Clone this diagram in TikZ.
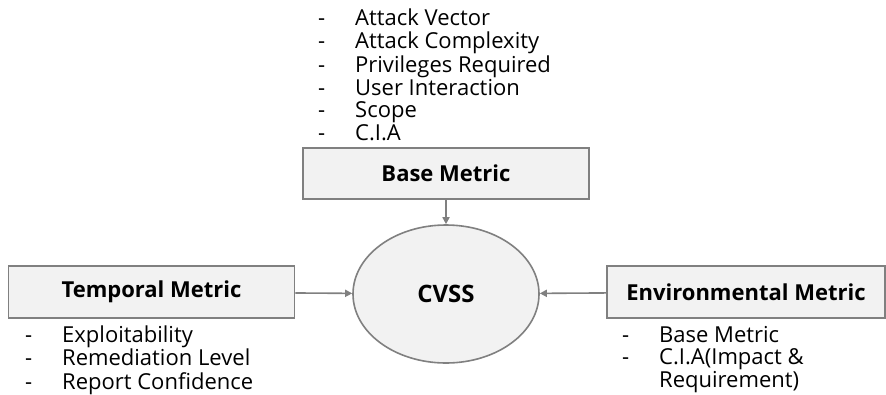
\documentclass[tikz,border=0pt]{standalone}
\usepackage{fontspec}
\setmainfont{Open Sans}
\usetikzlibrary{arrows.meta,shapes.geometric}

\definecolor{boxfill}{HTML}{F2F2F2}
\definecolor{edgegray}{HTML}{808080}

\tikzset{
  metricbox/.style={draw=edgegray, fill=boxfill, line width=1.6pt, inner sep=0pt,
    font=\fontsize{22}{26}\selectfont\bfseries},
  cvssnode/.style={ellipse, draw=edgegray, fill=boxfill, line width=1.6pt, inner sep=0pt,
    minimum width=186pt, minimum height=138pt, font=\fontsize{24}{28}\selectfont\bfseries},
  feed/.style={draw=edgegray, line width=1.6pt, -{Triangle[length=7pt,width=7pt]}},
  itemlist/.style={anchor=base west, inner sep=0pt, align=left}
}

\newcommand{\itemrows}[1]{\fontsize{22}{22.7}\selectfont
  \begin{tabular}[t]{@{}l@{}}#1\end{tabular}}
\newcommand{\dashitem}[1]{\makebox[37pt][l]{-}#1}

\begin{document}
\begin{tikzpicture}[x=1pt,y=-1pt]
\useasboundingbox (0,0) rectangle (886,394);
% boxes and the centre
\node[metricbox, minimum width=286pt, minimum height=51pt] (base) at (446,173.5) {Base Metric};
\node[cvssnode] (cvss) at (446,294) {CVSS};
\node[metricbox, minimum width=286pt, minimum height=52pt] (temporal) at (151.5,292) {Temporal Metric};
\node[metricbox, minimum width=278pt, minimum height=52pt] (environ) at (746,292) {Environmental Metric};
% lists
\node[itemlist] (baselist) at (318,25) {\itemrows{
  \dashitem{Attack Vector}\\ \dashitem{Attack Complexity}\\ \dashitem{Privileges Required}\\
  \dashitem{User Interaction}\\ \dashitem{Scope}\\ \dashitem{C.I.A}}};
\node[itemlist] (templist) at (25,342) {\itemrows{
  \dashitem{Exploitability}\\ \dashitem{Remediation Level}\\ \dashitem{Report Confidence}}};
\node[itemlist] (envlist) at (622,342) {\itemrows{
  \dashitem{Base Metric}\\ \dashitem{C.I.A(Impact \&}\\ \makebox[37pt]{}Requirement)}};
% connectors
\draw[feed] (base) -- (cvss);
\draw[feed] (temporal) -- (cvss);
\draw[feed] (environ) -- (cvss);
\end{tikzpicture}
\end{document}
